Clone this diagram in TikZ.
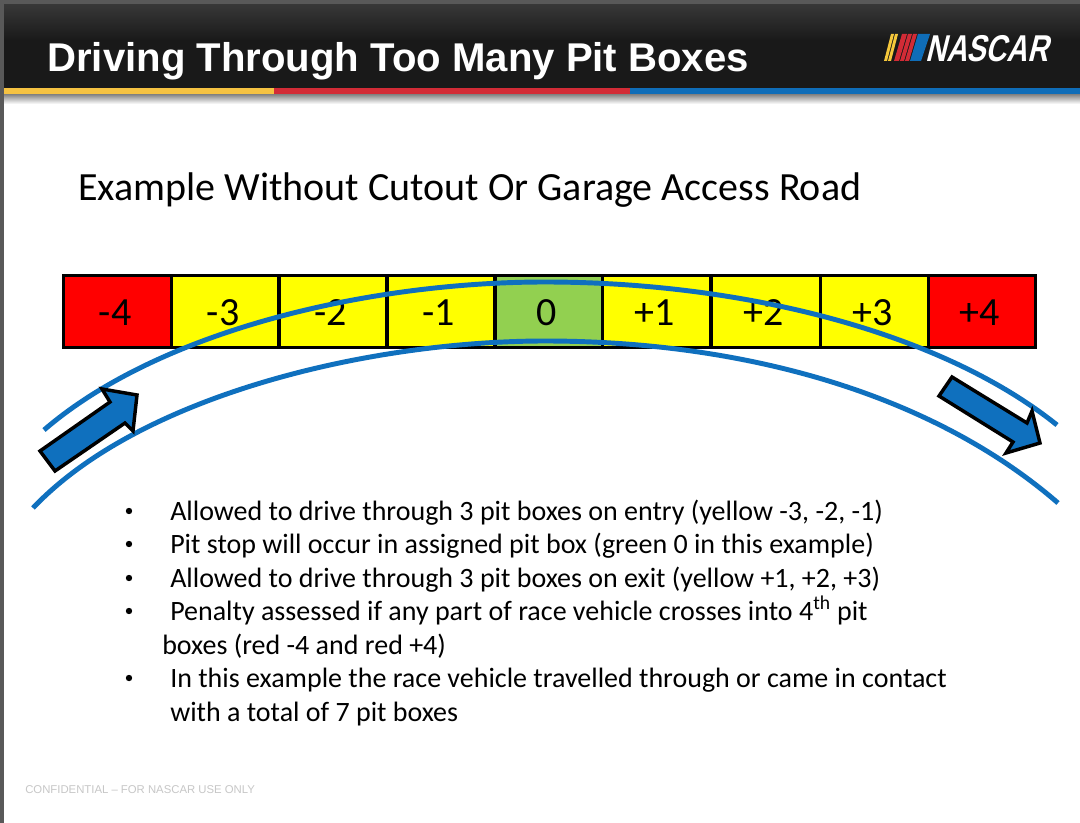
\documentclass[tikz,border=0pt]{standalone}
\usepackage{fontspec}
\setmainfont{Carlito}
\newfontfamily\headfont{Liberation Sans}
\newfontfamily\logofont[FakeSlant=0.25,FakeStretch=0.77]{Liberation Sans}
\definecolor{trackblue}{HTML}{0F70BE}
\definecolor{boxred}{HTML}{FF0000}
\definecolor{boxyellow}{HTML}{FFFF00}
\definecolor{boxgreen}{HTML}{92D050}
\definecolor{barY}{HTML}{F5C242}
\definecolor{barR}{HTML}{D22B36}
\definecolor{barB}{HTML}{0F6DB8}
\tikzset{
  pitbox/.style={draw=black,line width=2.5pt,outer sep=0pt,minimum width=81pt,minimum height=54pt,inner sep=0pt,font=\fontsize{30}{30}\selectfont,text=black,anchor=north west,text height=20.5pt,text depth=0pt,execute at begin node={\hspace{-3.5pt}}},
  track/.style={draw=trackblue,line width=3.7pt},
  flow/.style={draw=black,fill=trackblue,line width=2.6pt,miter limit=6},
  bodyline/.style={anchor=base west,inner sep=0pt,font=\fontsize{21}{24}\selectfont,text=black},
}
\begin{document}
\begin{tikzpicture}[x=0.75pt,y=-0.75pt]
\useasboundingbox (0,0) rectangle (1080,823);
\fill[white] (0,0) rectangle (1080,823);
% header
\shade[top color=black!78,bottom color=black!90] (0,4) rectangle (1080,40);
\fill[black!90] (0,40) rectangle (1080,88);
\shade[top color=black!50,bottom color=white] (0,94) rectangle (1080,104);
\fill[barY] (0,88) rectangle (274,94.5);
\fill[barR] (274,88) rectangle (630,94.5);
\fill[barB] (630,88) rectangle (1080,94.5);
\fill[black!65] (0,0) rectangle (1080,4);
\fill[black!65] (0,0) rectangle (4,823);
\node[anchor=base west,inner sep=0pt,text=white,font=\headfont\bfseries\fontsize{30.1}{32}\selectfont] (title) at (47,72) {Driving Through Too Many Pit Boxes};
% logo
\fill[barY!90!yellow] (884,61) -- (887,61) -- (894,34) -- (891,34) -- cycle;
\fill[barY!90!yellow] (888,61) -- (891,61) -- (898,34) -- (895,34) -- cycle;
\fill[barR] (894,61) -- (899,61) -- (907,34) -- (902,34) -- cycle;
\fill[barR] (900,61) -- (904,61) -- (912,34) -- (908,34) -- cycle;
\fill[barR] (905,61) -- (909,61) -- (917,34) -- (913,34) -- cycle;
\fill[barB] (910,61) -- (921,61) -- (930,34) -- (918,34) -- cycle;
\node[anchor=base west,inner sep=0pt,text=white,font=\logofont\bfseries\fontsize{28}{28}\selectfont] (logo) at (925,61.5) {NASCAR};
% heading
\node[anchor=base west,inner sep=0pt,text=black,font=\fontsize{30}{32}\selectfont] (heading) at (78,200.5) {Example Without Cutout Or Garage Access Road};
% pit boxes
\node[pitbox,fill=boxred] (m4) at (63.4,275.7) {-4};
\node[pitbox,fill=boxyellow] (m3) at (171.5,275.7) {-3};
\node[pitbox,fill=boxyellow] (m2) at (279,275.7) {-2};
\node[pitbox,fill=boxyellow] (m1) at (387,275.7) {-1};
\node[pitbox,fill=boxgreen] (z0) at (495,275.7) {0};
\node[pitbox,fill=boxyellow] (p1) at (602.5,275.7) {+1};
\node[pitbox,fill=boxyellow,minimum width=82pt] (p2) at (711,275.7) {+2};
\node[pitbox,fill=boxyellow] (p3) at (820.5,275.7) {+3};
\node[pitbox,fill=boxred,minimum width=80.5pt] (p4) at (928.3,275.7) {+4};
% tracks
\draw[track] (44,430) .. controls (160,330) and (370,282) .. (545,282) .. controls (740,282) and (940,331) .. (1057,425);
\draw[track] (33,508) .. controls (140,395) and (370,341) .. (545,341) .. controls (740,341) and (930,392) .. (1058,503);
% arrows
\draw[flow] (40,451) -- (55,471) -- (125,423) -- (133,431) -- (137,395) -- (102,389) -- (110,402) -- cycle;
\draw[flow] (952,377) -- (939,396) -- (1013,442) -- (1006,453) -- (1040,443) -- (1032,411) -- (1027,423) -- cycle;
% bullets
\foreach \yy in {511,544,578,611,678} \fill[black] (129,\yy) circle (3.2);
\node[bodyline] (b1) at (170,520) {Allowed to drive through 3 pit boxes on entry (yellow -3, -2, -1)};
\node[bodyline] (b2) at (170,553) {Pit stop will occur in assigned pit box (green 0 in this example)};
\node[bodyline] (b3) at (170,587) {Allowed to drive through 3 pit boxes on exit (yellow +1, +2, +3)};
\node[bodyline] (b4) at (170,620) {Penalty assessed if any part of race vehicle crosses into 4\textsuperscript{th} pit};
\node[bodyline] (b4b) at (162,654) {boxes (red -4 and red +4)};
\node[bodyline] (b5) at (170,687) {In this example the race vehicle travelled through or came in contact};
\node[bodyline] (b5b) at (170,721) {with a total of 7 pit boxes};
\node[anchor=base west,inner sep=0pt,text=black!22,font=\headfont\fontsize{8.5}{9}\selectfont] (foot) at (25,793) {CONFIDENTIAL – FOR NASCAR USE ONLY};
\end{tikzpicture}
\end{document}
